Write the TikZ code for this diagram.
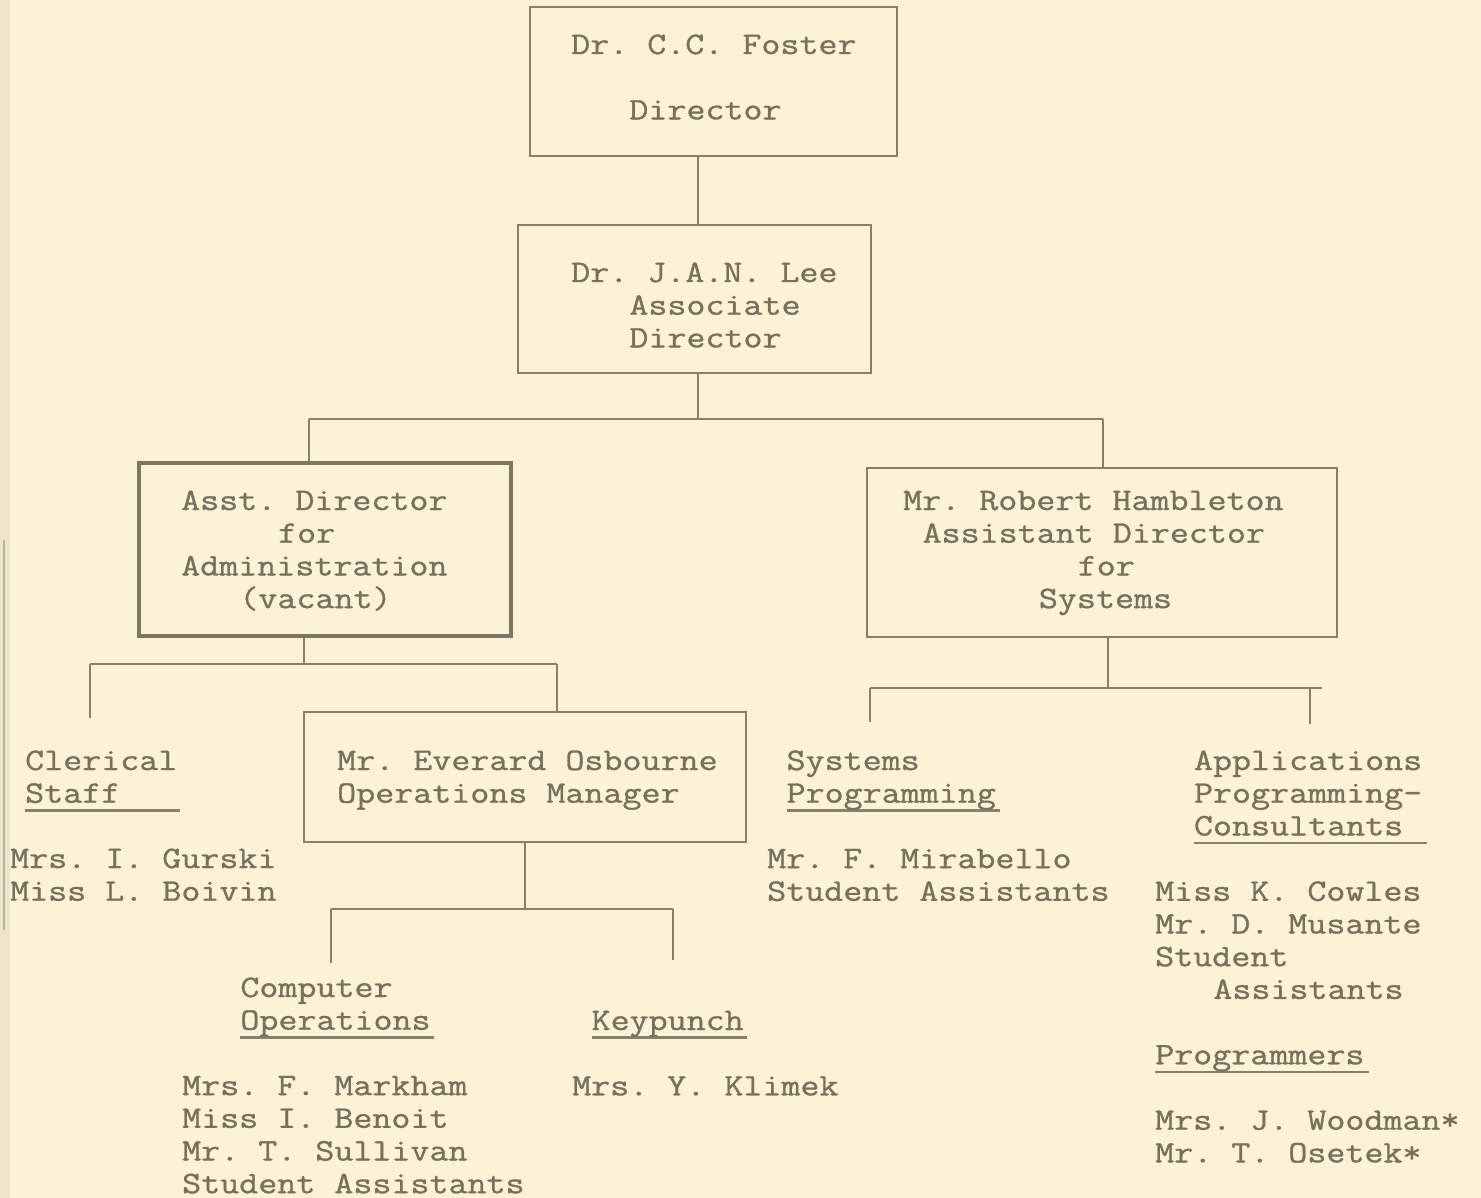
\documentclass[tikz,border=0pt]{standalone}
\usepackage{fontspec}
\newfontfamily\typewriter{Latin Modern Mono}[FakeStretch=1.18, FakeBold=1.0]
\usetikzlibrary{calc}

\definecolor{paper}{RGB}{252,243,214}
\definecolor{ink}{RGB}{120,112,93}
\definecolor{rulec}{RGB}{136,128,108}
\definecolor{heavy}{RGB}{126,118,98}
\definecolor{pageedge}{RGB}{238,228,199}

% typed text: one \tl per typed line, stacked at a fixed line pitch
\newcommand\tl[1]{\hbox{#1}}
\newcommand\block[1]{\vtop{\frenchspacing\baselineskip=32.7pt\lineskiplimit=-100pt\lineskip=0pt #1}}
% typewriter character cell and indents measured in cells
\newlength\cell
\newcommand\ind[1]{\hspace*{#1\cell}}
% typed underline spanning a number of character cells
\newcommand\uln[1]{\rlap{\color{rulec}\rule[-9pt]{#1\cell}{2.6pt}}}

\tikzset{
  txt/.style={anchor=base west, inner sep=0pt, text=ink,
    font=\typewriter\fontsize{31.3}{32.7}\selectfont\setlength\cell{19.39pt}},
  orgbox/.style={draw=rulec, line width=2.8pt, rectangle, inner sep=0pt},
  conn/.style={draw=rulec, line width=2.8pt},
}

\begin{document}
\begin{tikzpicture}[x=1pt, y=-1pt]
  % paper
  \fill[paper] (0,0) rectangle (1481,1198);
  \useasboundingbox (0,0) rectangle (1481,1198);
  \fill[pageedge] (0,0) rectangle (10,1198);
  \draw[rulec!60, line width=1.2pt] (4,540) -- (4,930);

  % boxes
  \node[orgbox, minimum width=367pt, minimum height=149pt] (foster) at (713.5,81.5) {};
  \node[orgbox, minimum width=353pt, minimum height=148pt] (lee) at (694.5,299) {};
  \node[orgbox, draw=heavy, line width=3.4pt, minimum width=372pt, minimum height=173pt] (admin) at (325,549.5) {};
  \node[orgbox, minimum width=470pt, minimum height=169pt] (hamb) at (1102,552.5) {};
  \node[orgbox, minimum width=442pt, minimum height=130pt] (ops) at (525,777) {};

  % box texts
  \node[txt] (tFoster) at (571,54) {\block{\tl{Dr. C.C. Foster}\tl{}\tl{\ind{3}Director}}};
  \node[txt] (tLee) at (571,282) {\block{\tl{Dr. J.A.N. Lee}\tl{\ind{3}Associate}\tl{\ind{3}Director}}};
  \node[txt] (tAdmin) at (181,510) {\block{\tl{Asst. Director}\tl{\ind{5}for}\tl{Administration}\tl{\ind{3}(vacant)}}};
  \node[txt] (tHamb) at (903,510) {\block{\tl{Mr. Robert Hambleton}\tl{\ind{1}Assistant Director}\tl{\ind{9}for}\tl{\ind{7}Systems}}};
  \node[txt] (tOps) at (337,770) {\block{\tl{Mr. Everard Osbourne}\tl{Operations Manager}}};

  % units and staff
  \node[txt] (tClerical) at (25,770) {\block{\tl{Clerical}\tl{\uln{8}Staff}}};
  \node[txt] (tClerk) at (10,868) {\block{\tl{Mrs. I. Gurski}\tl{Miss L. Boivin}}};
  \node[txt] (tCompOps) at (182,997) {\block{\tl{\ind{3}Computer}\tl{\ind{3}\uln{10}Operations}\tl{}%
      \tl{Mrs. F. Markham}\tl{Miss I. Benoit}\tl{Mr. T. Sullivan}\tl{Student Assistants}}};
  \node[txt] (tKey) at (572,1030) {\block{\tl{\ind{1}\uln{8}Keypunch}\tl{}\tl{Mrs. Y. Klimek}}};
  \node[txt] (tSysProg) at (767,770) {\block{\tl{\ind{1}Systems}\tl{\ind{1}\uln{11}Programming}\tl{}%
      \tl{Mr. F. Mirabello}\tl{Student Assistants}}};
  \node[txt] (tAppProg) at (1155,770) {\block{\tl{\ind{2}Applications}\tl{\ind{2}Programming-}%
      \tl{\ind{2}\uln{12}Consultants}\tl{}\tl{Miss K. Cowles}\tl{Mr. D. Musante}\tl{Student}%
      \tl{\ind{3}Assistants}\tl{}\tl{\uln{11}Programmers}\tl{}\tl{Mrs. J. Woodman*}\tl{Mr. T. Osetek*}}};

  % junction points of the connector buses
  \coordinate (jTop) at (698,0);
  \coordinate (busL) at (309,419);
  \coordinate (busM) at (698,419);
  \coordinate (busR) at (1103,419);
  \coordinate (admJ) at (304,664);
  \coordinate (admL) at (90,664);
  \coordinate (admR) at (557,664);
  \coordinate (clerEnd) at (90,718);
  \coordinate (opsJ) at (525,909);
  \coordinate (opsL) at (331,909);
  \coordinate (opsR) at (673,909);
  \coordinate (compEnd) at (331,963);
  \coordinate (keyEnd) at (673,960);
  \coordinate (sysJ) at (1108,688);
  \coordinate (sysL) at (870,688);
  \coordinate (sysR) at (1310,688);
  \coordinate (sysRR) at (1322,688);
  \coordinate (sysProgEnd) at (870,722);
  \coordinate (appEnd) at (1310,724);

  % Director -> Associate Director
  \draw[conn] (foster.south -| jTop) -- (lee.north -| jTop);
  % Associate Director -> assistant directors
  \draw[conn] (lee.south -| busM) -- (busM);
  \draw[conn] (busL) -- (busR);
  \draw[conn] (busL) -- (admin.north -| busL);
  \draw[conn] (busR) -- (hamb.north -| busR);
  % Administration branch
  \draw[conn] (admin.south -| admJ) -- (admJ);
  \draw[conn] (admL) -- (admR);
  \draw[conn] (admL) -- (clerEnd);
  \draw[conn] (admR) -- (ops.north -| admR);
  % Operations branch
  \draw[conn] (ops.south -| opsJ) -- (opsJ);
  \draw[conn] (opsL) -- (opsR);
  \draw[conn] (opsL) -- (compEnd);
  \draw[conn] (opsR) -- (keyEnd);
  % Systems branch
  \draw[conn] (hamb.south -| sysJ) -- (sysJ);
  \draw[conn] (sysL) -- (sysRR);
  \draw[conn] (sysL) -- (sysProgEnd);
  \draw[conn] (sysR) -- (appEnd);
\end{tikzpicture}
\end{document}
